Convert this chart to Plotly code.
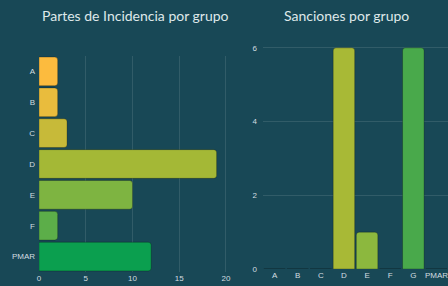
import plotly.graph_objects as go

# Left chart: Partes de Incidencia por grupo
inc_groups = ["A", "B", "C", "D", "E", "F", "PMAR"]
inc_values = [2, 2, 3, 19, 10, 2, 12]
inc_colors = ["#fcbb3e", "#e9bc3d", "#c7ba39", "#a4b836", "#7eb441", "#5cae49", "#0b9f4f"]

# Right chart: Sanciones por grupo
san_groups = ["A", "B", "C", "D", "E", "F", "G", "PMAR"]
san_values = [0, 0, 0, 6, 1, 0, 6, 0]
san_colors = ["#fcbb3e", "#e9bc3d", "#c7ba39", "#a8b936", "#8cb83e", "#6cb244", "#49a94b", "#0b9f4f"]

inc_ticks = [0, 5, 10, 15, 20]
san_ticks = [0, 2, 4, 6]

bg = "#184856"
grid = "rgba(255,255,255,0.11)"
tickc = "#d3dde0"
tickfont = dict(family="Liberation Sans", size=8, color=tickc)
W, H = 448, 286

fig = go.Figure()
fig.add_trace(go.Bar(
    x=inc_values, y=inc_groups, orientation="h",
    marker=dict(color=inc_colors, line=dict(color="rgba(0,0,0,0.25)", width=1), cornerradius=3),
    xaxis="x", yaxis="y", showlegend=False, hoverinfo="skip",
))
fig.add_trace(go.Bar(
    x=san_groups, y=san_values,
    marker=dict(color=san_colors, line=dict(color="rgba(0,0,0,0.25)", width=1), cornerradius=3),
    xaxis="x2", yaxis="y2", showlegend=False, hoverinfo="skip",
))

fig.update_layout(
    width=W, height=H,
    margin=dict(l=0, r=0, t=0, b=0, autoexpand=False),
    paper_bgcolor=bg, plot_bgcolor=bg,
    bargap=0.07,
    font=dict(family="Liberation Sans", size=8, color=tickc),
    xaxis=dict(domain=[39 / W, 240 / W], range=[0, 21.5], tickvals=inc_ticks,
               showgrid=True, gridcolor=grid, zeroline=False, showline=False,
               anchor="y", ticks="", automargin=False, tickfont=tickfont),
    yaxis=dict(domain=[14 / H, 230 / H], categoryorder="array",
               categoryarray=inc_groups[::-1], showgrid=False, zeroline=False,
               anchor="x", ticks="", automargin=False, tickfont=tickfont,
               ticklabelstandoff=3),
    xaxis2=dict(domain=[263 / W, 1.0], range=[-0.5, 7.5], showgrid=False,
                zeroline=False, showline=False, anchor="y2", ticks="", automargin=False,
                tickfont=tickfont),
    yaxis2=dict(domain=[17 / H, 240 / H], range=[0, 6.05], tickvals=san_ticks,
                showgrid=True, gridcolor=grid, zeroline=False, anchor="x2",
                ticks="", automargin=False, tickfont=tickfont, ticklabelstandoff=5),
    annotations=[
        dict(text="Partes de Incidencia por grupo", x=135 / W, y=1 - 16 / H,
             xref="paper", yref="paper", showarrow=False, xanchor="center",
             font=dict(family="Lato", size=14, color="#dfe8ea"), yanchor="middle"),
        dict(text="Sanciones por grupo", x=346 / W, y=1 - 16 / H,
             xref="paper", yref="paper", showarrow=False, xanchor="center",
             font=dict(family="Lato", size=14, color="#dfe8ea"), yanchor="middle"),
    ],
)

fig.write_html("out.html", config={"displayModeBar": False},
               post_script="document.body.style.margin='0';document.body.style.overflow='hidden';")
